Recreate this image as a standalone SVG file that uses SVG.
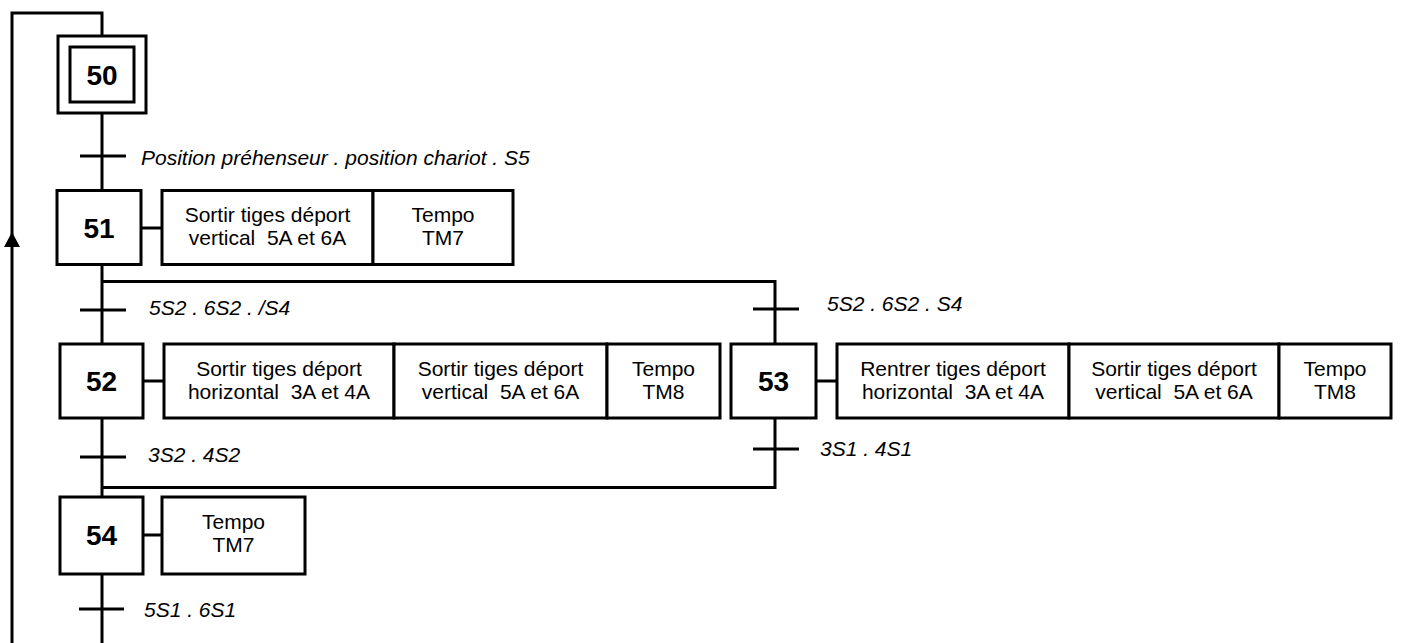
<svg xmlns="http://www.w3.org/2000/svg" width="1401" height="643" viewBox="0 0 1401 643">
  <style>
    .ln { fill: none; stroke: #000; stroke-width: 3; }
    .box { fill: #fff; stroke: #000; stroke-width: 3; }
    .num { font-family: "Liberation Sans", Arial, sans-serif; font-size: 28px; font-weight: bold; text-anchor: middle; fill: #000; }
    .act { font-family: "Liberation Sans", Arial, sans-serif; font-size: 21px; text-anchor: middle; fill: #000; white-space: pre; }
    .cond { font-family: "Liberation Sans", Arial, sans-serif; font-size: 21px; font-style: italic; fill: #000; }
  </style>

  <!-- links, transitions and loop-back -->
  <g id="connectors">
    <!-- loop-back from the end of the sequence to step 50 -->
    <path class="ln" d="M12,643 V13 H102 V36"/>
    <polygon points="12,232 4,247 20,247" fill="#000"/>
    <!-- 50 -> 51 -->
    <path class="ln" d="M102,113 V190"/>
    <path class="ln" d="M80,156 H126"/>
    <!-- 51 -> divergence -->
    <path class="ln" d="M102,265 V344"/>
    <path class="ln" d="M102,281.5 H775 V344"/>
    <path class="ln" d="M80,310 H126"/>
    <path class="ln" d="M753,309 H799"/>
    <!-- convergence -->
    <path class="ln" d="M102,418 V497"/>
    <path class="ln" d="M775,418 V487.5 H102"/>
    <path class="ln" d="M80,457 H126"/>
    <path class="ln" d="M753,449 H799"/>
    <!-- 54 -> end -->
    <path class="ln" d="M102,574 V643"/>
    <path class="ln" d="M79,609 H124"/>
    <!-- step to action links -->
    <path class="ln" d="M141,228 H162"/>
    <path class="ln" d="M143,381 H164"/>
    <path class="ln" d="M816,381 H837"/>
    <path class="ln" d="M143,535 H162"/>
  </g>

  <g id="conditions">
    <text class="cond" x="141" y="165">Position préhenseur . position chariot . S5</text>
    <text class="cond" x="149" y="315">5S2 . 6S2 . /S4</text>
    <text class="cond" x="827" y="311">5S2 . 6S2 . S4</text>
    <text class="cond" x="148" y="462">3S2 . 4S2</text>
    <text class="cond" x="820" y="456">3S1 . 4S1</text>
    <text class="cond" x="144" y="617">5S1 . 6S1</text>
  </g>

  <g id="step50">
    <rect class="box" x="58" y="36" width="88" height="77"/>
    <rect class="box" x="70" y="47" width="64" height="55"/>
    <text class="num" x="102" y="85">50</text>
  </g>

  <g id="step51">
    <rect class="box" x="57" y="190.5" width="84" height="74"/>
    <text class="num" x="99" y="238">51</text>
    <rect class="box" x="162" y="190.5" width="211" height="74"/>
    <text class="act" x="267.5" y="222" xml:space="preserve">Sortir tiges déport</text>
    <text class="act" x="267.5" y="245" xml:space="preserve">vertical  5A et 6A</text>
    <rect class="box" x="373" y="190.5" width="140" height="74"/>
    <text class="act" x="443" y="222">Tempo</text>
    <text class="act" x="443" y="245">TM7</text>
  </g>

  <g id="step52">
    <rect class="box" x="60" y="344" width="83" height="74"/>
    <text class="num" x="101.5" y="391">52</text>
    <rect class="box" x="164" y="344" width="230" height="74"/>
    <text class="act" x="279" y="376" xml:space="preserve">Sortir tiges déport</text>
    <text class="act" x="279" y="399" xml:space="preserve">horizontal  3A et 4A</text>
    <rect class="box" x="394" y="344" width="213" height="74"/>
    <text class="act" x="500.5" y="376" xml:space="preserve">Sortir tiges déport</text>
    <text class="act" x="500.5" y="399" xml:space="preserve">vertical  5A et 6A</text>
    <rect class="box" x="607" y="344" width="113" height="74"/>
    <text class="act" x="663.5" y="376">Tempo</text>
    <text class="act" x="663.5" y="399">TM8</text>
  </g>

  <g id="step53">
    <rect class="box" x="731" y="344" width="85" height="74"/>
    <text class="num" x="773.5" y="391">53</text>
    <rect class="box" x="837" y="344" width="232" height="74"/>
    <text class="act" x="953" y="376" xml:space="preserve">Rentrer tiges déport</text>
    <text class="act" x="953" y="399" xml:space="preserve">horizontal  3A et 4A</text>
    <rect class="box" x="1069" y="344" width="210" height="74"/>
    <text class="act" x="1174" y="376" xml:space="preserve">Sortir tiges déport</text>
    <text class="act" x="1174" y="399" xml:space="preserve">vertical  5A et 6A</text>
    <rect class="box" x="1279" y="344" width="112" height="74"/>
    <text class="act" x="1335" y="376">Tempo</text>
    <text class="act" x="1335" y="399">TM8</text>
  </g>

  <g id="step54">
    <rect class="box" x="60" y="497" width="83" height="77"/>
    <text class="num" x="101.5" y="545">54</text>
    <rect class="box" x="162" y="497" width="143" height="77"/>
    <text class="act" x="233.5" y="529">Tempo</text>
    <text class="act" x="233.5" y="552">TM7</text>
  </g>
</svg>
